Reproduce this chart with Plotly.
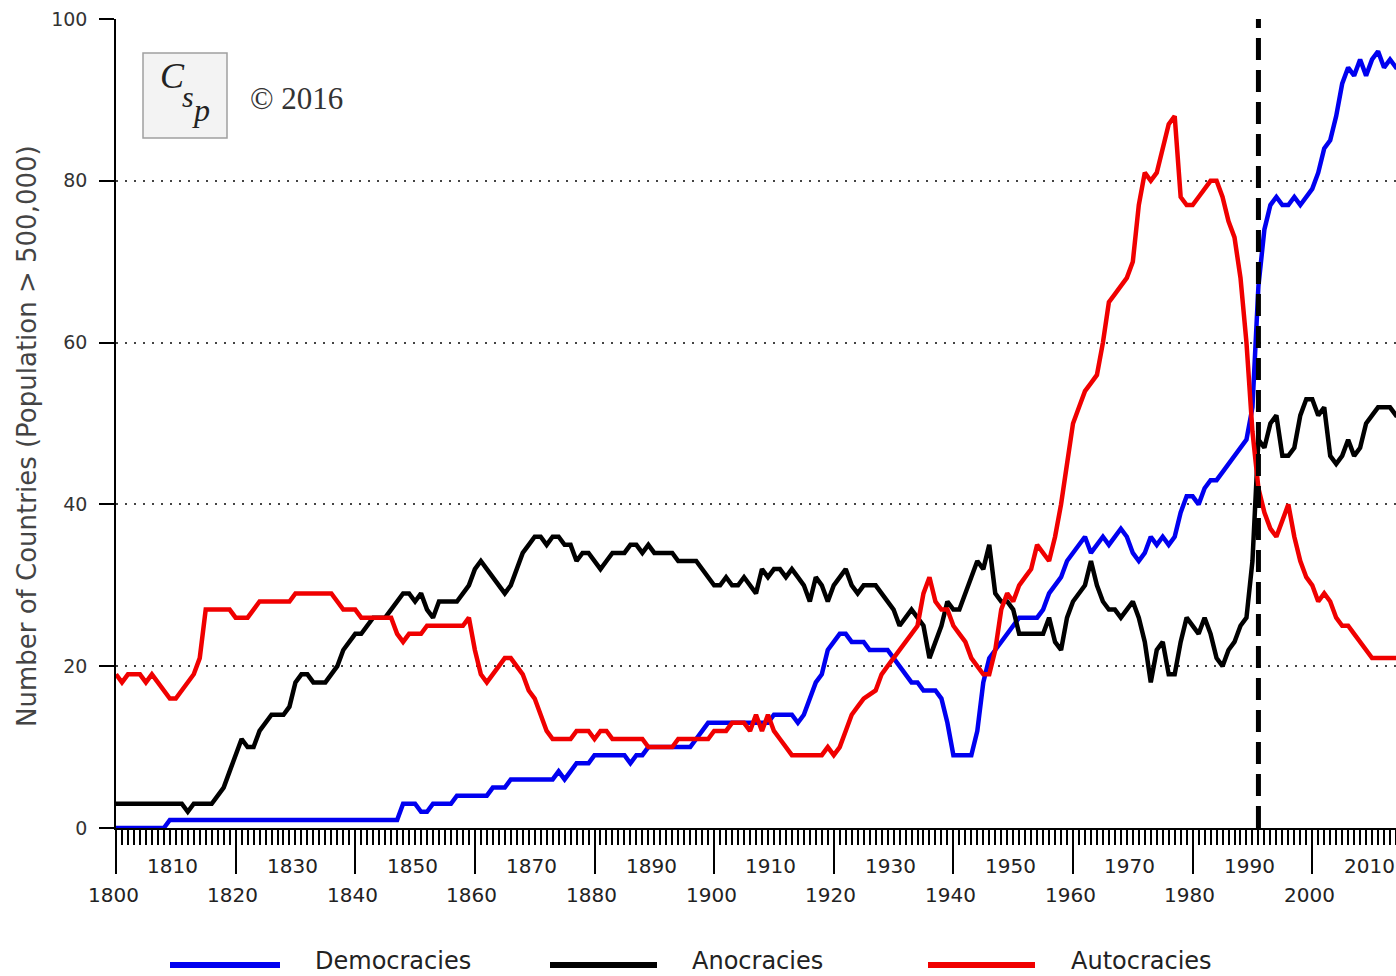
import plotly.graph_objects as go

# ---------------- data ----------------
dem_years = [1800, 1808, 1809, 1847, 1848, 1850, 1851, 1852, 1853, 1856, 1857, 1862, 1863, 1865,
             1866, 1873, 1874, 1875, 1876, 1877, 1879, 1880, 1885, 1886, 1887, 1888, 1889, 1896,
             1897, 1898, 1899, 1909, 1910, 1913, 1914, 1915, 1916, 1917, 1918, 1919, 1920, 1921,
             1922, 1923, 1925, 1926, 1929, 1930, 1931, 1932, 1933, 1934, 1935, 1937, 1938, 1939,
             1940, 1943, 1944, 1945, 1946, 1947, 1948, 1949, 1950, 1951, 1954, 1955, 1956, 1957,
             1958, 1959, 1960, 1961, 1962, 1963, 1964, 1965, 1966, 1967, 1968, 1969, 1970, 1971,
             1972, 1973, 1974, 1975, 1976, 1977, 1978, 1979, 1980, 1981, 1982, 1983, 1984, 1985,
             1986, 1987, 1988, 1989, 1990, 1991, 1992, 1993, 1994, 1995, 1996, 1997, 1998, 1999,
             2000, 2001, 2002, 2003, 2004, 2005, 2006, 2007, 2008, 2009, 2010, 2011, 2012, 2013,
             2014, 2015]
dem_values = [0, 0, 1, 1, 3, 3, 2, 2, 3, 3, 4, 4, 5, 5,
              6, 6, 7, 6, 7, 8, 8, 9, 9, 8, 9, 9, 10, 10,
              11, 12, 13, 13, 14, 14, 13, 14, 16, 18, 19, 22, 23, 24,
              24, 23, 23, 22, 22, 21, 20, 19, 18, 18, 17, 17, 16, 13,
              9, 9, 12, 18, 21, 22, 23, 24, 25, 26, 26, 27, 29, 30,
              31, 33, 34, 35, 36, 34, 35, 36, 35, 36, 37, 36, 34, 33,
              34, 36, 35, 36, 35, 36, 39, 41, 41, 40, 42, 43, 43, 44,
              45, 46, 47, 48, 52, 67, 74, 77, 78, 77, 77, 78, 77, 78,
              79, 81, 84, 85, 88, 92, 94, 93, 95, 93, 95, 96, 94, 95,
              94, 94]

ano_years = [1800, 1811, 1812, 1813, 1816, 1817, 1818, 1819, 1820, 1821, 1822, 1823, 1824, 1825,
             1826, 1828, 1829, 1830, 1831, 1832, 1833, 1835, 1836, 1837, 1838, 1839, 1840, 1841,
             1842, 1843, 1845, 1846, 1847, 1848, 1849, 1850, 1851, 1852, 1853, 1854, 1857, 1858,
             1859, 1860, 1861, 1862, 1863, 1864, 1865, 1866, 1867, 1868, 1869, 1870, 1871, 1872,
             1873, 1874, 1875, 1876, 1877, 1878, 1879, 1880, 1881, 1882, 1883, 1885, 1886, 1887,
             1888, 1889, 1890, 1893, 1894, 1897, 1898, 1899, 1900, 1901, 1902, 1903, 1904, 1905,
             1906, 1907, 1908, 1909, 1910, 1911, 1912, 1913, 1914, 1915, 1916, 1917, 1918, 1919,
             1920, 1921, 1922, 1923, 1924, 1925, 1926, 1927, 1928, 1929, 1930, 1931, 1932, 1933,
             1934, 1935, 1936, 1937, 1938, 1939, 1940, 1941, 1942, 1943, 1944, 1945, 1946, 1947,
             1948, 1949, 1950, 1951, 1952, 1954, 1955, 1956, 1957, 1958, 1959, 1960, 1961, 1962,
             1963, 1964, 1965, 1966, 1967, 1968, 1969, 1970, 1971, 1972, 1973, 1974, 1975, 1976,
             1977, 1978, 1979, 1980, 1981, 1982, 1983, 1984, 1985, 1986, 1987, 1988, 1989, 1990,
             1991, 1992, 1993, 1994, 1995, 1996, 1997, 1998, 1999, 2000, 2001, 2002, 2003, 2004,
             2005, 2006, 2007, 2008, 2009, 2010, 2011, 2012, 2013, 2014, 2015]
ano_values = [3, 3, 2, 3, 3, 4, 5, 7, 9, 11, 10, 10, 12, 13,
              14, 14, 15, 18, 19, 19, 18, 18, 19, 20, 22, 23, 24, 24,
              25, 26, 26, 27, 28, 29, 29, 28, 29, 27, 26, 28, 28, 29,
              30, 32, 33, 32, 31, 30, 29, 30, 32, 34, 35, 36, 36, 35,
              36, 36, 35, 35, 33, 34, 34, 33, 32, 33, 34, 34, 35, 35,
              34, 35, 34, 34, 33, 33, 32, 31, 30, 30, 31, 30, 30, 31,
              30, 29, 32, 31, 32, 32, 31, 32, 31, 30, 28, 31, 30, 28,
              30, 31, 32, 30, 29, 30, 30, 30, 29, 28, 27, 25, 26, 27,
              26, 25, 21, 23, 25, 28, 27, 27, 29, 31, 33, 32, 35, 29,
              28, 28, 27, 24, 24, 24, 24, 26, 23, 22, 26, 28, 29, 30,
              33, 30, 28, 27, 27, 26, 27, 28, 26, 23, 18, 22, 23, 19,
              19, 23, 26, 25, 24, 26, 24, 21, 20, 22, 23, 25, 26, 33,
              48, 47, 50, 51, 46, 46, 47, 51, 53, 53, 51, 52, 46, 45,
              46, 48, 46, 47, 50, 51, 52, 52, 52, 51, 51]

aut_years = [1800, 1801, 1802, 1804, 1805, 1806, 1807, 1808, 1809, 1810, 1811, 1812, 1813, 1814,
             1815, 1818, 1819, 1820, 1822, 1823, 1824, 1829, 1830, 1836, 1837, 1838, 1840, 1841,
             1846, 1847, 1848, 1849, 1851, 1852, 1858, 1859, 1860, 1861, 1862, 1863, 1864, 1865,
             1866, 1867, 1868, 1869, 1870, 1871, 1872, 1873, 1876, 1877, 1879, 1880, 1881, 1882,
             1883, 1888, 1889, 1893, 1894, 1899, 1900, 1902, 1903, 1905, 1906, 1907, 1908, 1909,
             1910, 1911, 1912, 1913, 1918, 1919, 1920, 1921, 1922, 1923, 1924, 1925, 1927, 1928,
             1929, 1930, 1931, 1932, 1933, 1934, 1935, 1936, 1937, 1938, 1939, 1940, 1941, 1942,
             1943, 1944, 1945, 1946, 1947, 1948, 1949, 1950, 1951, 1952, 1953, 1954, 1955, 1956,
             1957, 1958, 1959, 1960, 1961, 1962, 1963, 1964, 1965, 1966, 1967, 1968, 1969, 1970,
             1971, 1972, 1973, 1974, 1975, 1976, 1977, 1978, 1979, 1980, 1981, 1982, 1983, 1984,
             1985, 1986, 1987, 1988, 1989, 1990, 1991, 1992, 1993, 1994, 1995, 1996, 1997, 1998,
             1999, 2000, 2001, 2002, 2003, 2004, 2005, 2006, 2007, 2008, 2009, 2010, 2011, 2012,
             2013, 2014, 2015]
aut_values = [19, 18, 19, 19, 18, 19, 18, 17, 16, 16, 17, 18, 19, 21,
              27, 27, 27, 26, 26, 27, 28, 28, 29, 29, 28, 27, 27, 26,
              26, 24, 23, 24, 24, 25, 25, 26, 22, 19, 18, 19, 20, 21,
              21, 20, 19, 17, 16, 14, 12, 11, 11, 12, 12, 11, 12, 12,
              11, 11, 10, 10, 11, 11, 12, 12, 13, 13, 12, 14, 12, 14,
              12, 11, 10, 9, 9, 10, 9, 10, 12, 14, 15, 16, 17, 19,
              20, 21, 22, 23, 24, 25, 29, 31, 28, 27, 27, 25, 24, 23,
              21, 20, 19, 19, 22, 27, 29, 28, 30, 31, 32, 35, 34, 33,
              36, 40, 45, 50, 52, 54, 55, 56, 60, 65, 66, 67, 68, 70,
              77, 81, 80, 81, 84, 87, 88, 78, 77, 77, 78, 79, 80, 80,
              78, 75, 73, 68, 60, 49, 42, 39, 37, 36, 38, 40, 36, 33,
              31, 30, 28, 29, 28, 26, 25, 25, 24, 23, 22, 21, 21, 21,
              21, 21, 21]

series_names = ["Democracies", "Anocracies", "Autocracies"]
series_colors = ["#0000f0", "#000000", "#f00000"]
y_ticks = [0, 20, 40, 60, 80, 100]
x_labels_low = [1800, 1820, 1840, 1860, 1880, 1900, 1920, 1940, 1960, 1980, 2000]
x_labels_high = [1810, 1830, 1850, 1870, 1890, 1910, 1930, 1950, 1970, 1990, 2010]
event_year = 1991
y_title = "Number of Countries (Population > 500,000)"
copyright_text = "© 2016"

# ---------------- figure ----------------
W, H = 1396, 976
L, R, T, B = 116, 0, 19, 148
PW, PH = W - L - R, H - T - B
X0, X1 = 1800, 2014


def px_x(px):
    return (px - L) / PW


def px_y(py):
    return (H - B - py) / PH


def year_to_paper(yr):
    return (yr - X0) / (X1 - X0)


fig = go.Figure()
for yrs, vals, name, col in zip([dem_years, ano_years, aut_years],
                                [dem_values, ano_values, aut_values],
                                series_names, series_colors):
    fig.add_trace(go.Scatter(x=yrs, y=vals, mode="lines", name=name,
                             line=dict(color=col, width=4.5), showlegend=False))

tick_font = dict(family="DejaVu Sans", size=19, color="#333333")

fig.update_layout(
    width=W, height=H,
    margin=dict(l=L, r=R, t=T, b=B, pad=0),
    paper_bgcolor="white", plot_bgcolor="white",
    showlegend=False,
    xaxis=dict(range=[X0, X1], showline=True, linecolor="black", linewidth=1.5,
               ticks="outside", tickmode="linear", tick0=1800, dtick=20,
               ticklen=44, tickwidth=1.5, tickcolor="black",
               showticklabels=False, showgrid=False, zeroline=False,
               minor=dict(ticks="outside", tickmode="linear", tick0=1800, dtick=1,
                          ticklen=15, tickwidth=1.5, tickcolor="black", showgrid=False)),
    yaxis=dict(range=[0, 100], showline=True, linecolor="black", linewidth=1.5,
               ticks="outside", tickvals=y_ticks, ticklen=15, tickwidth=1.5,
               tickcolor="black", tickfont=tick_font, ticklabelstandoff=8,
               showgrid=True, gridcolor="#444444", gridwidth=2, griddash="2px,7px",
               zeroline=False),
)

# x tick labels in two rows (placed in paper coords so edge labels stay visible)
xlab_font = dict(family="DejaVu Sans", size=20, color="#222222")
for yr in x_labels_low:
    fig.add_annotation(x=year_to_paper(yr), y=0, xref="paper", yref="paper", text=str(yr),
                       showarrow=False, xanchor="center", yanchor="middle",
                       xshift=-3, yshift=-67, font=xlab_font)
for yr in x_labels_high:
    fig.add_annotation(x=year_to_paper(yr), y=0, xref="paper", yref="paper", text=str(yr),
                       showarrow=False, xanchor="center", yanchor="middle",
                       xshift=-3, yshift=-38, font=xlab_font)

# y-axis title
fig.add_annotation(x=px_x(27), y=px_y(436), xref="paper", yref="paper", text=y_title,
                   textangle=-90, showarrow=False, xanchor="center", yanchor="middle",
                   font=dict(family="DejaVu Sans", size=26, color="#444444"))

# dashed vertical line at 1991
fig.add_shape(type="line", x0=event_year, x1=event_year, y0=0, y1=100, xref="x", yref="y",
              line=dict(color="black", width=5, dash="22px,10px"), layer="above")

# logo box
fig.add_shape(type="rect", xref="paper", yref="paper",
              x0=px_x(143), x1=px_x(227), y0=px_y(138), y1=px_y(53),
              line=dict(color="#a0a0a0", width=1.5), fillcolor="#f3f3f3", layer="above")
for ch, cx, cy, sz in [("C", 172, 76, 36), ("s", 188, 96, 30), ("p", 201, 110, 32)]:
    fig.add_annotation(x=px_x(cx), y=px_y(cy), xref="paper", yref="paper",
                       text="<i>" + ch + "</i>", showarrow=False,
                       xanchor="center", yanchor="middle",
                       font=dict(family="Liberation Serif", size=sz, color="#222222"))
fig.add_annotation(x=px_x(248), y=px_y(98), xref="paper", yref="paper", text=copyright_text,
                   showarrow=False, xanchor="left", yanchor="middle",
                   font=dict(family="Liberation Serif", size=31, color="#333333"))

# legend (drawn manually at bottom)
leg_y = px_y(965)
text_y = px_y(961)
leg_items = [(170, 280, 313), (550, 657, 690), (928, 1035, 1069)]
for (x0, x1, tx), name, col in zip(leg_items, series_names, series_colors):
    fig.add_shape(type="line", xref="paper", yref="paper", x0=px_x(x0), x1=px_x(x1),
                  y0=leg_y, y1=leg_y, line=dict(color=col, width=6))
    fig.add_annotation(x=px_x(tx), y=text_y, xref="paper", yref="paper", text=name,
                       showarrow=False, xanchor="left", yanchor="middle",
                       font=dict(family="DejaVu Sans", size=24, color="#222222"))

fig.write_html("out.html",
               config={"displayModeBar": False},
               post_script="document.body.style.margin='0px';"
                           "document.body.style.overflow='hidden';")
